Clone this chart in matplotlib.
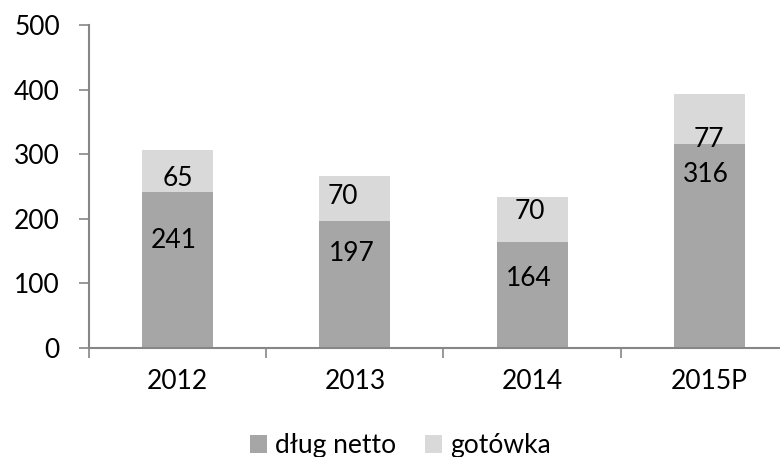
import matplotlib
matplotlib.use("Agg")
import matplotlib.pyplot as plt

plt.rcParams['font.family'] = ['Lato', 'DejaVu Sans']

# data
years = ['2012', '2013', '2014', '2015P']
dlug_netto = [241, 197, 164, 316]
gotowka = [65, 70, 70, 77]

# label placement (data units), the original labels are hand-placed
net_label_y = [166, 146, 108, 268]
cash_label_y = [263, 235, 211, 322]
cash_label_dx = [0.0, -0.065, -0.01, 0.0]

dark = '#a6a6a6'
light = '#d9d9d9'
axis_col = '#868686'
fs = 19

fig = plt.figure(figsize=(7.8, 4.57), dpi=100)
# axes run past the right edge, as in the original screenshot
ax = fig.add_axes([89 / 780, 109 / 457, 709 / 780, 323 / 457])

x = list(range(len(years)))
b1 = ax.bar(x, dlug_netto, width=0.4, color=dark, label='dług netto', zorder=2)
b2 = ax.bar(x, gotowka, width=0.4, bottom=dlug_netto, color=light, label='gotówka', zorder=2)

for i in x:
    ax.text(i - 0.02, net_label_y[i], str(dlug_netto[i]), ha='center', va='center',
            fontsize=fs, color='black')
    ax.text(i + cash_label_dx[i], cash_label_y[i], str(gotowka[i]), ha='center', va='center',
            fontsize=fs, color='black')

ax.set_xlim(-0.5, 3.5)
ax.set_ylim(0, 500)
ax.set_yticks([0, 100, 200, 300, 400, 500])

# category ticks between bars
ax.set_xticks([-0.5, 0.5, 1.5, 2.5, 3.5])
ax.set_xticklabels([])
ax.set_xticks(x, minor=True)
ax.set_xticklabels(years, minor=True, fontsize=fs)
ax.tick_params(axis='x', which='major', length=7, color=axis_col, width=1.2)
ax.tick_params(axis='x', which='minor', length=0, pad=15)
ax.tick_params(axis='y', length=7, color=axis_col, width=1.2, labelsize=fs, pad=14)

for s in ['top', 'right']:
    ax.spines[s].set_visible(False)
for s in ['left', 'bottom']:
    ax.spines[s].set_color(axis_col)
    ax.spines[s].set_linewidth(1.5)

fig.legend(handles=[b1, b2], loc='lower center', bbox_to_anchor=(0.513, -0.055), ncol=2,
           frameon=False, fontsize=fs, handlelength=0.65, handleheight=0.65,
           handletextpad=0.3, columnspacing=1.1)

fig.savefig('out.png', dpi=100)
